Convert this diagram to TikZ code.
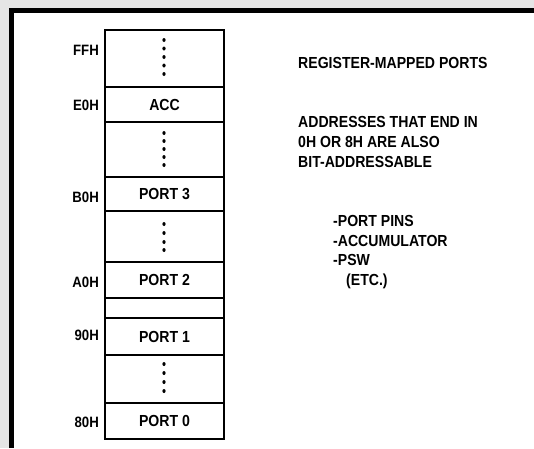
\documentclass[tikz,border=0pt]{standalone}
\usepackage{fontspec}
\setmainfont[FakeStretch=0.88]{Liberation Sans}
\usetikzlibrary{positioning}

\tikzset{
  cell/.style={draw, line width=2.6pt, minimum width=119pt, inner sep=0pt,
    font=\bfseries\fontsize{16}{16}\selectfont},
  addr/.style={anchor=east, inner sep=0pt, font=\bfseries\fontsize{15}{15}\selectfont},
  note/.style={anchor=west, inner sep=0pt, align=left,
    font=\bfseries\fontsize{16}{19.7}\selectfont},
  vdot/.style={fill=black}
}

\begin{document}
\begin{tikzpicture}[x=1pt, y=-1pt]
  \useasboundingbox (0,0) rectangle (534,448);
  % background and frame
  \fill[gray!20] (0,0) rectangle (534,448);
  \fill[white] (11.5,10.5) rectangle (534,448);
  \draw[line width=5pt] (11.5,448) -- (11.5,10.5) -- (534,10.5);

  % memory column
  \node[cell, minimum height=57pt] (ffh)   at (164.5,58.5) {};
  \node[cell, minimum height=35pt] (acc)   at (164.5,104.5) {ACC};
  \node[cell, minimum height=55pt] (gapb)  at (164.5,149.5) {};
  \node[cell, minimum height=34pt] (port3) at (164.5,194) {PORT 3};
  \node[cell, minimum height=51pt] (gapc)  at (164.5,236.5) {};
  \node[cell, minimum height=36pt] (port2) at (164.5,280) {PORT 2};
  \node[cell, minimum height=20pt] (gapd)  at (164.5,308) {};
  \node[cell, minimum height=37pt] (port1) at (164.5,336.5) {PORT 1};
  \node[cell, minimum height=48pt] (gape)  at (164.5,379) {};
  \node[cell, minimum height=36pt] (port0) at (164.5,421) {PORT 0};

  % dots
  \foreach \y in {40,48.5,57,65.5,74} \fill[vdot] (164,\y) ellipse (1.6 and 2);
  \foreach \y in {133,141,149,157,165} \fill[vdot] (164,\y) ellipse (1.6 and 2);
  \foreach \y in {224,233,242,250} \fill[vdot] (164,\y) ellipse (1.6 and 2);
  \foreach \y in {364,373,382,391} \fill[vdot] (164,\y) ellipse (1.6 and 2);

  % addresses
  \node[addr] (lffh) at (99,50)  {FFH};
  \node[addr] (le0)  at (99,105) {E0H};
  \node[addr] (lb0)  at (99,197) {B0H};
  \node[addr] (la0)  at (99,282) {A0H};
  \node[addr] (l90)  at (99,335) {90H};
  \node[addr] (l80)  at (99,422) {80H};

  % notes
  \node[note] (regs) at (298,63)  {REGISTER-MAPPED PORTS};
  \node[note] (bits) at (298,142) {ADDRESSES THAT END IN\\0H OR 8H ARE ALSO\\BIT-ADDRESSABLE};
  \node[note] (list) at (333,252) {-PORT PINS\\-ACCUMULATOR\\-PSW\\\hspace*{13pt}(ETC.)};
\end{tikzpicture}
\end{document}
